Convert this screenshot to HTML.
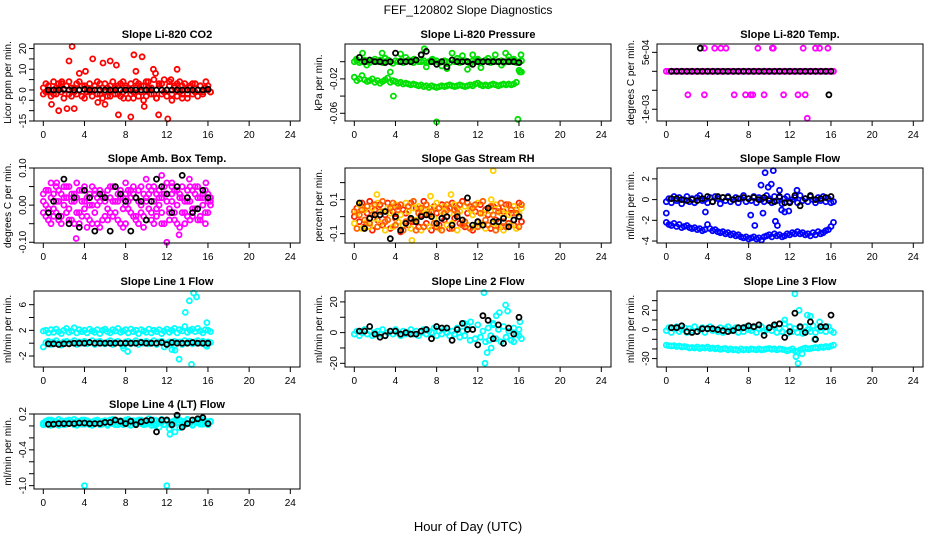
<!DOCTYPE html>
<html><head><meta charset="utf-8"><style>
html,body{margin:0;padding:0;background:#fff;}
svg{display:block;font-family:"Liberation Sans",Arial,sans-serif;}
</style></head><body>
<svg id="c" width="936" height="540" viewBox="0 0 936 540" xmlns="http://www.w3.org/2000/svg">
<text x="468" y="14" text-anchor="middle" font-size="12">FEF_120802  Slope Diagnostics</text>
<text x="468" y="531" text-anchor="middle" font-size="13">Hour of Day (UTC)</text>
</svg>
<script>
const xTicks=[0,4,8,12,16,20,24];
const H=[0,.25,.5,.75,1,1.25,1.5,1.75,2,2.25,2.5,2.75,3,3.25,3.5,3.75,4,4.25,4.5,4.75,5,5.25,5.5,5.75,6,6.25,6.5,6.75,7,7.25,7.5,7.75,8,8.25,8.5,8.75,9,9.25,9.5,9.75,10,10.25,10.5,10.75,11,11.25,11.5,11.75,12,12.25,12.5,12.75,13,13.25,13.5,13.75,14,14.25,14.5,14.75,15,15.25,15.5,15.75,16,16.25];
const HB=[.5,1,1.5,2,2.5,3,3.5,4,4.5,5,5.5,6,6.5,7,7.5,8,8.5,9,9.5,10,10.5,11,11.5,12,12.5,13,13.5,14,14.5,15,15.5,16];
const Z66=[0,0,0,0,0,0,0,0,0,0,0,0,0,0,0,0,0,0,0,0,0,0,0,0,0,0,0,0,0,0,0,0,0,0,0,0,0,0,0,0,0,0,0,0,0,0,0,0,0,0,0,0,0,0,0,0,0,0,0,0,0,0,0,0,0,0];
const co2A=[1,-1,2,0,-2,1,3,-1,0,2,-2,1,-1,3,0,-3,2,1,-1,0,2,-2,3,1,-1,-3,2,0,1,-2,3,-1,2,0,-2,-4,1,3,-1,2,-3,0,1,-2,-4,2,3,-1,0,2,-2,1,3,-1,2,0,-2,1,3,-1,0,2,-1,1,0,-1];
const co2B=[-2,3,-1,-3,4,-2,1,3,-4,2,4,-3,1,-2,4,2,-4,-1,3,-3,2,4,-2,-4,3,1,-3,4,-2,2,-3,4,1,-4,3,-1,4,-3,2,-5,4,1,-2,5,-4,3,-2,5,-3,4,-5,2,-3,4,-2,3,-4,2,-2,3,-3,2,-2,1,2,-1];
const co2OutH=[.8,1.5,1.8,2.3,2.5,2.8,3,3.5,4.1,4.8,5.3,5.8,6,6.5,7.1,7.3,7.8,8.5,8.8,9,9.6,9.8,10.2,10.7,10.9,11.2,12.1,12.4,13,13.5,15.8];
const co2OutV=[-7,-10,4,-9,14,21,-9,8,9,15,-6,13,-7,14,12,-12,-4,-13,17,9,16,-8,4,10,8,-12,-14,5,10,-4,4];
const co2K=[0,0,0,.3,0,0,0,.3,0,0,0,0,0,0,0,0,0,0,0,0,0,0,0,0,0,0,0,0,0,0,0,.3];
const presA=[0,.001,-.001,0,.002,0,-.001,.001,0,0,.002,-.001,0,.001,0,-.002,.001,0,.001,-.001,0,.002,0,-.001,.001,0,0,.001,-.001,0,.002,0,.001,-.001,0,.001,0,-.001,.002,0,.001,-.001,0,.001,0,-.002,.001,0,.001,-.001,0,.002,0,-.001,.001,0,0,.001,-.001,0,.002,0,.001,-.001,0,.001];
const presB=[-.018,-.022,-.02,-.016,-.021,-.023,-.022,-.02,-.024,-.022,-.025,-.023,-.021,-.019,-.024,-.022,-.023,-.025,-.024,-.026,-.025,-.026,-.027,-.026,-.027,-.028,-.027,-.029,-.028,-.03,-.028,-.029,-.03,-.029,-.028,-.029,-.028,-.027,-.028,-.029,-.028,-.027,-.028,-.029,-.028,-.027,-.028,-.026,-.025,-.027,-.028,-.027,-.028,-.027,-.026,-.027,-.028,-.027,-.026,-.027,-.026,-.027,-.026,-.024,-.01,-.012];
const presOutH=[.2,.8,1.2,2,2.7,3,3.3,3.5,3.8,4.5,5,5.5,5.8,6.5,6.8,7,7.6,8,8.5,9,9.5,10,10.5,11,11.5,12,12.3,13,13.7,14.3,14.7,15,15.5,15.9,16.1,16.2];
const presOutV=[.003,.01,-.004,.003,.01,.004,.002,-.012,-.04,.009,.005,.001,.003,.008,.015,-.006,.003,-.07,-.005,-.008,.01,.004,.007,-.009,.008,.003,-.007,.004,.008,-.004,.01,.006,.003,-.067,-.012,.008];
const presK=[.005,0,.002,0,0,-.001,0,.01,0,0,0,.002,.008,.012,0,-.003,0,-.006,.002,0,0,0,-.003,0,0,0,0,0,0,0,0,-.001];
const tmpOutH=[3.7,4.7,5.3,5.8,8.9,10.3,10.4,13.3,14.5,14.9,15.7,2.1,3.7,6.6,7.7,8.2,8.4,9.5,11.4,12.8,13.5,13.7];
const tmpOutV=[6.1,6.1,6.1,6.1,6.1,6.1,6.1,6.1,6.1,6.1,6.1,-6.2,-6.2,-6.2,-6.2,-6.2,-6.2,-6.2,-6.2,-6.2,-6.2,-12.4];
const tmpKH=[3.3,15.8];
const tmpKV=[6.1,-6.2];
const tmpK=[0,0,0,0,0,0,0,0,0,0,0,0,0,0,0,0,0,0,0,0,0,0,0,0,0,0,0,0,0,0,0,0];
const amb1=[.01,-.03,.04,.02,-.01,.05,-.04,.03,0,-.02,.05,.01,-.05,.02,.04,-.03,.01,-.06,.03,.05,-.02,0,.04,-.04,.02,-.01,.05,-.03,.01,.03,-.05,.02,0,.04,-.02,.03,-.04,.01,.05,-.03,.02,-.01,.04,-.05,.03,0,-.02,.05,.01,-.04,.03,-.02,.04,-.06,.02,.01,-.03,.05,-.01,.03,-.04,.02,0,.04,-.02,.02];
const amb2=[-.02,.04,-.01,-.05,.03,-.02,.01,-.03,.05,.02,-.04,.03,.01,-.02,-.05,.04,-.01,.02,-.04,0,.03,-.05,.01,.02,-.03,.04,-.02,.01,.05,-.04,.02,-.01,-.05,.01,.04,-.03,.02,-.05,0,.03,-.04,.05,-.02,.01,-.03,.04,.02,-.05,.03,-.01,.05,-.04,0,.03,-.02,-.05,.04,.01,-.03,.05,.02,-.04,.03,-.02,.01,0];
const amb3=[.03,0,-.04,.06,-.03,.01,.04,-.05,.02,.05,-.01,-.04,.03,.06,-.02,.01,.05,-.03,0,-.05,.04,.02,-.06,.03,.01,-.04,.02,.05,-.02,.01,.04,-.06,.03,-.01,.02,.05,-.03,.04,-.02,-.06,.01,.03,-.04,.05,-.01,.02,-.05,.03,.06,-.02,.01,.04,-.05,.02,.05,-.02,.01,-.04,.04,-.01,.05,-.03,.02,-.05,.03,.01];
const ambOutH=[11.5,12,12.5,13.2,14.2,15.8,10,8,3.2,1.3];
const ambOutV=[.08,-.1,.06,-.08,.07,.06,.07,.06,-.09,.06];
const ambK=[-.02,.01,-.03,.07,-.05,.02,-.06,.04,.02,-.07,.03,.02,-.07,.05,.03,.01,-.07,.02,.01,-.04,.01,.07,.05,.03,-.02,.05,.08,.02,-.02,-.01,.04,.02];
const rh1=[0,.05,-.03,.08,-.06,.02,.09,-.08,.04,-.02,.07,-.05,.01,.08,-.07,.03,-.01,.06,-.09,.04,.02,-.05,.08,-.03,.05,-.06,.01,.09,-.04,.03,-.08,.06,.02,-.05,.07,-.02,.04,-.07,.08,-.01,.05,-.04,.09,-.06,.02,.06,-.08,.03,-.03,.07,-.05,.04,.01,-.07,.06,-.02,.05,-.06,.03,.07,-.04,.02,-.05,.04,.08,-.03];
const rh2=[-.04,.02,.07,-.07,.04,-.03,-.06,.05,-.01,.08,-.04,.03,-.08,.05,.02,-.06,.07,-.03,.01,-.05,.08,.03,-.07,.05,-.02,.06,-.08,.04,.02,-.06,.05,-.01,.08,-.07,.03,.06,-.05,.02,-.04,.07,-.08,.03,-.02,.06,-.05,.04,.01,-.06,.08,-.04,.02,-.07,.05,.03,-.04,.07,-.06,.02,-.08,.04,.01,-.05,.06,-.07,.02,.05];
const rh3=[.03,-.07,.01,.04,-.02,.06,-.04,.01,.07,-.06,.03,.09,-.03,-.02,.05,.08,-.05,.04,.07,-.08,-.03,.06,-.02,.09,-.08,.02,.05,-.06,.07,.01,.03,-.04,-.06,.05,-.08,.02,.07,.05,-.07,.04,.02,.07,-.05,-.03,.08,-.07,.05,.07,-.06,.02,.09,-.02,-.05,.06,.01,-.08,.03,.08,-.03,-.06,.07,.04,-.02,.02,-.06,.07];
const rhOutH=[13.5,5.6,2.2,7.4,13.3,9.4];
const rhOutV=[.27,-.14,.13,.12,.1,.13];
const rhK=[.08,-.07,-.01,.01,.01,.03,-.13,.0,-.08,-.04,-.01,-.03,.0,.01,.0,-.04,-.01,.0,-.05,.0,-.02,.11,-.05,-.03,-.05,.05,-.03,-.03,-.01,-.06,-.02,.0];
const sf1=[-.2,.1,-.3,.3,-.1,.2,-.4,0,.3,-.2,.1,-.3,.2,.4,-.1,0,-.3,.2,-.2,.3,.1,-.4,.2,-.1,.3,-.2,0,.2,-.3,.1,.4,-.2,.1,-.1,.3,-.3,.2,0,-.2,.4,.1,-.3,.3,-.1,.2,-.4,.1,.3,-.2,0,.2,-.3,.4,-.1,.1,-.2,.3,0,-.3,.2,-.1,.3,-.2,.1,-.3,-.2];
const sf2=[-2.2,-2.4,-2.5,-2.3,-2.6,-2.4,-2.7,-2.6,-2.5,-2.7,-2.8,-2.7,-2.9,-2.8,-3,-2.9,-2.4,-2.8,-3,-2.9,-3.1,-3.2,-3.1,-3.3,-3.2,-3.4,-3.3,-3.5,-3.4,-3.6,-3.7,-3.6,-3.8,-3.7,-3.6,-3.8,-3.7,-3.9,-3.6,-3.5,-3.4,-3.6,-3.3,-3.5,-3.4,-3.6,-3.5,-3.3,-3.4,-3.2,-3.3,-3.1,-3.3,-3.2,-3.4,-3.3,-3.5,-3.2,-3.4,-3.1,-3.3,-3.2,-3,-2.9,-2.6,-2.2];
const sfOutH=[0,3.8,8.2,9.2,9.6,9.9,10.2,10.4,10.6,10.8,11,11.2,11.5,11.9,12.7,8.6,9.4];
const sfOutV=[-1.3,-1.2,-1.5,1.4,2.6,1.2,1.5,2.8,-2.1,-2.5,.9,-1,-1.2,-1.1,.9,-2.5,-1.3];
const sfK=[.1,.1,0,-.1,0,-.1,.1,.3,-.2,.3,.2,.2,0,.1,.2,.1,.2,0,.2,-.1,-.2,.3,-.3,-.3,.4,-.6,.1,.4,0,.1,.2,.3];
const l1a=[1.9,2,1.6,2.1,1.7,2.2,1.8,1.5,2,2.3,1.7,1.9,2.4,1.6,2.1,1.8,2,1.6,2.2,1.9,1.7,2.1,1.5,2,2.2,1.8,1.6,2.1,1.9,2.3,1.7,1.9,2.1,1.6,2.2,1.8,2,1.5,2.1,1.9,1.7,2.2,1.6,2,1.8,2.1,1.5,1.9,2.2,1.7,2,2.3,1.6,2.1,1.9,2.6,1.7,2,2.2,1.8,2.3,1.9,1.6,2.1,2,1.8];
const l1b=[-.6,.1,.3,-.2,.2,.4,0,-.3,.2,.3,-.1,.1,.4,-.2,.2,0,.3,-.1,.1,.4,-.2,.2,.3,0,-.1,.2,.4,-.2,.1,.3,0,-.4,.2,.3,-.1,.1,.4,-.2,.2,0,.3,-.1,.1,.4,-.2,.2,.3,-.6,0,.2,-.1,.3,.1,.2,-.2,.4,.1,.3,-.1,.2,.4,0,.3,-.3,.2,.1];
const l1OutH=[13.8,14.2,14.6,14.9,15.9,13.2,14.4,12.5,15.9,12.8,7.8,8.2];
const l1OutV=[4.8,6.6,7.8,7.2,3.2,-2.5,-3.3,-1,-.5,-1.1,-.8,-1.3];
const l1K=[-.1,-.1,-.2,-.1,-.1,0,0,0,.1,0,0,0,0,0,0,0,0,0,.1,0,0,0,.1,-.2,.1,0,0,0,.1,0,0,0];
const l2a=[-1,1,-2,0,2,-1,1,-2,0,1,-1,2,-2,0,1,-1,2,0,-2,1,-1,0,2,-1,1,-2,0,2,-1,1,0,3,-2,1,-1,2,0,-2,1,-1,3,-3,1,-2,4,-5,2,-4,5,-3,1,-6,3,-2,5,-4,2,-6,4,-3,1,-5,3,-1,2,-4];
const l2OutH=[12.6,12.7,12.9,13.1,13.3,13.5,13.8,14.1,14.7,14.9,15.5,16.1,16,10.7,11.3];
const l2OutV=[26,-20,-13,-5,-10,6,11,13,18,14,-6,7,-2,6,7];
const l2K=[1,1,4,-1,-3,-2,1,1,-1,0,-1,-1,1,2,-4,4,3,3,-5,2,6,2,2,-8,11,8,-4,5,-7,3,-1,10];
const l3a=[-1,2,-3,1,3,-2,0,2,-3,1,-1,3,-2,0,2,-3,1,3,-1,0,-2,2,-3,1,3,-1,0,2,-3,1,-2,3,0,-1,2,-3,1,3,-2,0,2,-1,3,-3,1,-2,6,-4,3,-2,1,-3,2,-4,3,0,-2,4,-3,1,-1,2,-2,3,-1,-3];
const l3b=[-16,-16.5,-17,-16.5,-17.5,-17,-18,-17.5,-18,-19,-18.5,-19,-18,-19.5,-18.5,-19,-18,-19.5,-19,-20,-19,-20.5,-20,-19.5,-21,-20,-21,-20.5,-21.5,-20,-21,-20.5,-21,-20,-20.5,-21,-20,-21,-20.5,-20,-19.5,-20.5,-20,-21,-20,-20.5,-21,-22,-21,-20,-22,-23,-21,-20,-19,-20,-19.5,-19,-18.5,-19,-18,-18.5,-17.5,-18,-17,-16];
const l3OutH=[12.5,12.8,12.6,13.2,13.7,14,14.4,14.9,12.9,11.5];
const l3OutV=[37,-35,-28,-25,15,14,-10,8,20,10];
const l3K=[2,2,4,-2,-3,-2,1,1,1,0,-1,-2,-1,2,2,4,3,5,-6,2,5,6,-8,-2,17,3,-3,8,-10,3,3,15];
const l4a=[.05,.08,.02,.1,.04,.07,.01,.09,.06,.03,.1,.05,.02,.08,.06,.03,.1,.04,.07,.01,.09,.05,.02,.08,.06,.03,.1,.04,.07,.02,.09,.05,.1,.03,.08,.06,.02,.1,.04,.07,.03,.12,.05,.01,.09,-.02,.06,.03,.1,-.05,.07,.04,.12,-.03,.08,.02,.1,.05,.01,.09,.06,.12,.03,.08,.05,.07];
const l4b=[.02,.04,.1,.01,.08,.03,.11,.05,.02,.09,.04,.07,.11,.01,.08,.1,.03,.09,.02,.06,.04,.1,.07,.03,.09,.01,.06,.11,.02,.08,.05,.02,.07,.11,.01,.09,.04,.07,.1,.02,.08,.05,.01,.1,.03,.07,.11,.02,.08,.04,.01,.09,.06,.1,.03,.07,.11,.04,.02,.09,.05,.03,.1,.06,.02,.08];
const l4OutH=[4,12,12.3,12.8];
const l4OutV=[-1,-1,-.14,-.1];
const l4K=[.03,.03,.04,.04,.04,.04,.05,.05,.04,.04,.04,.06,.06,.1,.08,.04,.08,.02,.07,.09,.1,-.1,.1,.1,.02,.18,-.02,.04,.1,.12,.14,.04];

const cols=[34,345,657], colW=266;
const rows=[44,168,291,414], rowH=[77,75,76,75];
const svg=document.getElementById('c');
const NS='http://www.w3.org/2000/svg';
function mk(tag,attrs,parent){const e=document.createElementNS(NS,tag);for(const k in attrs)e.setAttribute(k,attrs[k]);(parent||svg).appendChild(e);return e;}

function panel(id,ci,ri,title,ylab,ymin,ymax,yTicks,yLabels,series){
  const L=cols[ci],T=rows[ri],W=colW,Ht=rowH[ri];
  const g=mk('g',{});
  
  
  const xs=h=>L+9.3+h*(247/24);
  const ys=v=>T+(ymax-v)/(ymax-ymin)*Ht;
  const t=mk('text',{x:L+W/2,y:T-6,'text-anchor':'middle','font-size':11,'font-weight':'bold'},g);t.textContent=title;
  
  
  const pg=mk('g',{},g);
  
  
  series.forEach(s=>{
    for(let i=0;i<s.v.length;i++){
      const c=mk('circle',{cx:xs(s.h[i]).toFixed(1),cy:ys(s.v[i]).toFixed(1),r:2.5,fill:'none',stroke:s.c,'stroke-width':1.8},pg);
      
      
    }
  });
  const b=mk('rect',{x:L,y:T,width:W,height:Ht,fill:'none',stroke:'#000','stroke-width':1},g);
  
  
  xTicks.forEach(tk=>{
    const x=xs(tk);
    mk('line',{x1:x,x2:x,y1:T+Ht,y2:T+Ht+5,stroke:'#000'},g);
    const tx=mk('text',{x:x,y:T+Ht+17,'text-anchor':'middle','font-size':10},g);tx.textContent=tk;
    
    
  });
  yTicks.forEach((tk,i)=>{
    const y=ys(tk);
    mk('line',{x1:L,x2:L-5,y1:y,y2:y,stroke:'#000'},g);
    if(yLabels[i]){
      const tx=mk('text',{x:0,y:0,'text-anchor':'middle','font-size':10,transform:`translate(${L-8},${y}) rotate(-90)`},g);tx.textContent=yLabels[i];
      
      
    }
  });
  const yl=mk('text',{x:0,y:0,'text-anchor':'middle','font-size':10,transform:`translate(${L-23},${T+Ht/2}) rotate(-90)`},g);yl.textContent=ylab;
  
  
}
const RED='#ff0000',GRN='#00e000',MAG='#ff00ff',BLU='#0000ff',CY='#00ffff',K='#000';
panel('co2',0,0,'Slope Li-820 CO2','Licor ppm per min.',-15,22.2,[-15,-10,-5,0,5,10,15,20],['-15','','-5','0','','10','','20'],
 [{h:H,v:co2B,c:RED},{h:H,v:co2A,c:RED},{h:co2OutH,v:co2OutV,c:RED},{h:HB,v:co2K,c:K}]);
panel('pressure',1,0,'Slope Li-820 Pressure','kPa per min.',-0.069,0.0206,[0,-0.02,-0.04,-0.06],['','-0.02','','-0.06'],
 [{h:H,v:presA,c:GRN},{h:H,v:presB,c:GRN},{h:presOutH,v:presOutV,c:GRN},{h:HB,v:presK,c:K}]);
panel('temp',2,0,'Slope Li-820 Temp.','degrees C per min.',-13.1,7.2,[5,0,-5,-10],['5e-04','','','-1e-03'],
 [{h:H,v:Z66,c:MAG},{h:tmpOutH,v:tmpOutV,c:MAG},{h:HB,v:tmpK,c:K},{h:tmpKH,v:tmpKV,c:K}]);
panel('ambbox',0,1,'Slope Amb. Box Temp.','degrees C per min.',-0.102,0.100,[-0.1,-0.05,0,0.05,0.1],['-0.10','','0.00','','0.10'],
 [{h:H,v:amb1,c:MAG},{h:H,v:amb2,c:MAG},{h:H,v:amb3,c:MAG},{h:ambOutH,v:ambOutV,c:MAG},{h:HB,v:ambK,c:K}]);
panel('rh',1,1,'Slope Gas Stream RH','percent per min.',-0.155,0.286,[-0.1,0,0.1,0.2],['-0.1','','0.1',''],
 [{h:H,v:rh1,c:'#ff2000'},{h:H,v:rh2,c:'#ffd000'},{h:H,v:rh3,c:'#ff6000'},{h:rhOutH,v:rhOutV,c:'#ffd000'},{h:HB,v:rhK,c:K}]);
panel('sampleflow',2,1,'Slope Sample Flow','ml/min per min.',-4.19,3.05,[-4,-2,0,2],['-4','-2','0','2'],
 [{h:H,v:sf1,c:BLU},{h:H,v:sf2,c:BLU},{h:sfOutH,v:sfOutV,c:BLU},{h:HB,v:sfK,c:K}]);
panel('line1',0,2,'Slope Line 1 Flow','ml/min per min.',-3.71,8.13,[-2,0,2,4,6],['-2','','2','','6'],
 [{h:H,v:l1a,c:CY},{h:H,v:l1b,c:CY},{h:l1OutH,v:l1OutV,c:CY},{h:HB,v:l1K,c:K}]);
panel('line2',1,2,'Slope Line 2 Flow','ml/min per min.',-22.4,27.1,[-20,-10,0,10,20],['-20','','0','','20'],
 [{h:H,v:l2a,c:CY},{h:l2OutH,v:l2OutV,c:CY},{h:HB,v:l2K,c:K}]);
panel('line3',2,2,'Slope Line 3 Flow','ml/min per min.',-38.7,40,[-30,-20,-10,0,10,20,30],['-30','','','0','','20',''],
 [{h:H,v:l3a,c:CY},{h:H,v:l3b,c:CY},{h:l3OutH,v:l3OutV,c:CY},{h:HB,v:l3K,c:K}]);
panel('line4',0,3,'Slope Line 4 (LT) Flow','ml/min per min.',-1.056,0.2,[0.2,0,-0.2,-0.4,-0.6,-0.8,-1.0],['0.2','','','-0.4','','','-1.0'],
 [{h:H,v:l4a,c:CY},{h:H,v:l4b,c:CY},{h:l4OutH,v:l4OutV,c:CY},{h:HB,v:l4K,c:K}]);
</script>
</body></html>
